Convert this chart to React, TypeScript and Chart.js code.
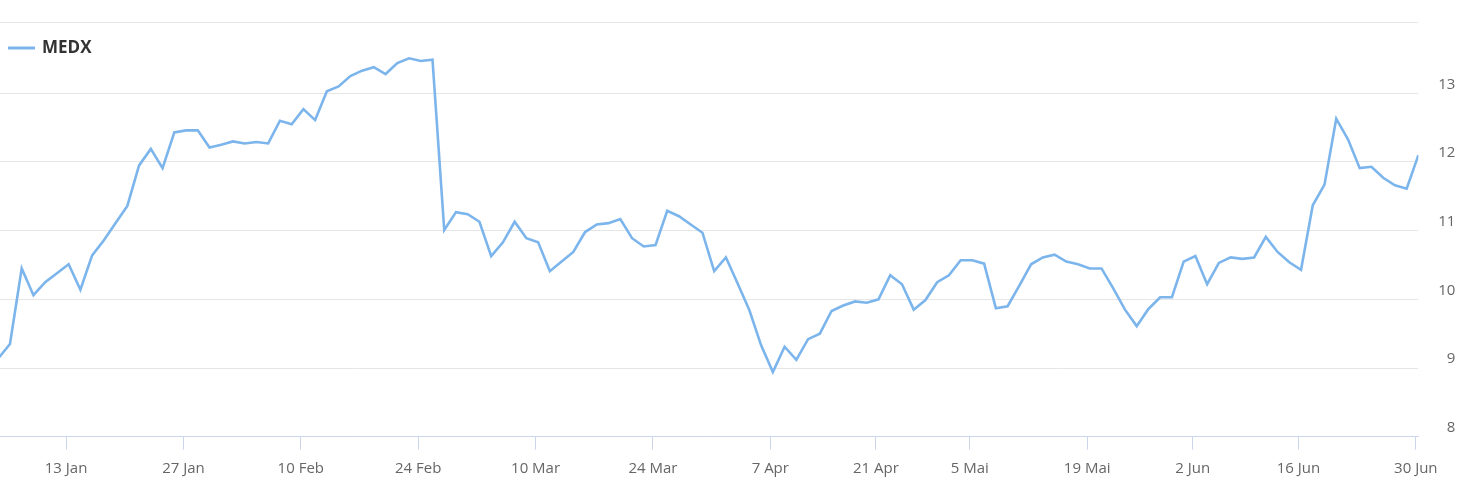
import React, { useEffect, useRef } from "react";
import { Chart, registerables } from "chart.js";

Chart.register(...registerables);

const seriesName = "MEDX";

// Closing values, one per trading day (index 0 = first trading day shown)
const values: number[] = [
  9.14, 9.35, 10.45, 10.06, 10.25, 10.38, 10.51, 10.14, 10.64, 10.86,
  11.11, 11.36, 11.95, 12.19, 11.91, 12.43, 12.46, 12.46, 12.21, 12.25,
  12.30, 12.27, 12.29, 12.27, 12.60, 12.55, 12.77, 12.61, 13.03, 13.10,
  13.25, 13.33, 13.38, 13.28, 13.44, 13.51, 13.47, 13.49, 11.01, 11.27,
  11.24, 11.13, 10.63, 10.83, 11.13, 10.89, 10.83, 10.41, 10.55, 10.69,
  10.98, 11.09, 11.11, 11.17, 10.89, 10.77, 10.79, 11.29, 11.21, 11.09,
  10.97, 10.41, 10.61, 10.23, 9.84, 9.33, 8.94, 9.31, 9.12, 9.42,
  9.50, 9.83, 9.91, 9.97, 9.95, 10.00, 10.35, 10.22, 9.85, 9.99,
  10.25, 10.35, 10.57, 10.57, 10.52, 9.87, 9.90, 10.20, 10.51, 10.61,
  10.65, 10.55, 10.51, 10.45, 10.45, 10.16, 9.85, 9.61, 9.86, 10.03,
  10.03, 10.55, 10.63, 10.22, 10.53, 10.61, 10.59, 10.61, 10.91, 10.69,
  10.54, 10.43, 11.37, 11.67, 12.63, 12.33, 11.91, 11.93, 11.77, 11.66,
  11.61, 12.10,
];

// X-axis tick labels and the trading-day index each one sits on
const tickLabels: string[] = [
  "13 Jan", "27 Jan", "10 Feb", "24 Feb", "10 Mar", "24 Mar", "7 Apr",
  "21 Apr", "5 Mai", "19 Mai", "2 Jun", "16 Jun", "30 Jun",
];
const tickIndex: number[] = [6, 16, 26, 36, 46, 56, 66, 75, 83, 93, 102, 111, 121];

// Y-axis values (labelled) and the axis range
const yTicks: number[] = [8, 9, 10, 11, 12, 13];
const yMin = 8;
const yMax = 14.028;

const LINE_COLOR = "#7cb5ec";
const FONT = "'Open Sans', sans-serif";

export default function App() {
  const ref = useRef<HTMLCanvasElement | null>(null);

  useEffect(() => {
    if (!ref.current) return;
    const legendPlugin = {
      id: "customLegend",
      afterDraw(chart: any) {
        const ctx = chart.ctx;
        ctx.save();
        ctx.strokeStyle = LINE_COLOR;
        ctx.lineWidth = 3;
        ctx.beginPath();
        ctx.moveTo(8, 48);
        ctx.lineTo(35, 48);
        ctx.stroke();
        ctx.fillStyle = "#333333";
        ctx.font = "bold 17px " + FONT;
        ctx.textBaseline = "middle";
        ctx.textAlign = "left";
        ctx.fillText(seriesName, 42, 48.5);
        ctx.restore();
      },
    };

    const chart = new Chart(ref.current, {
      type: "line",
      data: {
        datasets: [
          {
            label: seriesName,
            data: values.map((v, i) => ({ x: i, y: v })),
            borderColor: LINE_COLOR,
            backgroundColor: LINE_COLOR,
            borderWidth: 2.6,
            pointRadius: 0,
            tension: 0,
            fill: false,
          },
        ],
      },
      options: {
        animation: false,
        responsive: false,
        maintainAspectRatio: false,
        layout: { padding: { top: 22.7, left: 0, right: 18.6, bottom: 0 } },
        plugins: {
          legend: { display: false },
          tooltip: { enabled: false },
        },
        scales: {
          x: {
            type: "linear",
            min: 0.15,
            max: 121,
            afterBuildTicks: (scale: any) => {
              scale.ticks = tickIndex.map((v) => ({ value: v - 0.22 }));
            },
            afterFit: (scale: any) => {
              scale.height = 53.3;
              scale.paddingLeft = 0;
              scale.paddingRight = 0;
            },
            ticks: {
              autoSkip: false,
              maxRotation: 0,
              minRotation: 0,
              padding: 10,
              color: "#666666",
              font: { family: FONT, size: 15 },
              callback: (_v: any, i: number) => tickLabels[i],
            },
            grid: {
              drawOnChartArea: false,
              drawTicks: true,
              tickLength: 13,
              color: "#ccd6eb",
            },
            border: { display: true, color: "#ccd6eb", width: 1 },
          },
          y: {
            position: "right",
            min: yMin,
            max: yMax,
            afterBuildTicks: (scale: any) => {
              scale.ticks = [...yTicks, yMax].map((v) => ({ value: v }));
            },
            afterFit: (scale: any) => {
              scale.width = 37;
              scale.paddingTop = 0;
              scale.paddingBottom = 0;
            },
            ticks: {
              color: "#666666",
              font: { family: FONT, size: 15 },
              padding: 3,
              crossAlign: "far",
              labelOffset: -9,
              callback: (v: any) => (yTicks.includes(v) ? String(v) : ""),
            },
            grid: {
              color: "#e6e6e6",
              drawTicks: false,
              lineWidth: 1,
            },
            border: { display: false },
          },
        },
      },
      plugins: [legendPlugin],
    } as any);

    return () => chart.destroy();
  }, []);

  return (
    <div
      style={{
        position: "fixed",
        left: 0,
        top: 0,
        width: 1474,
        height: 490,
        background: "#ffffff",
      }}
    >
      <canvas ref={ref} width={1474} height={490} style={{ display: "block" }} />
    </div>
  );
}
